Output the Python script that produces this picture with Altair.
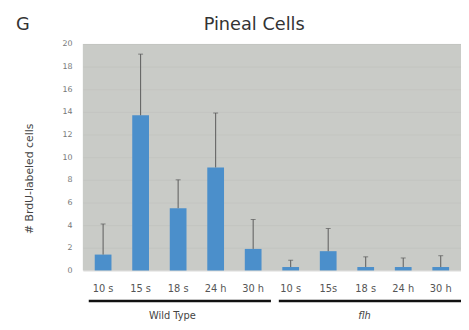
import altair as alt
import pandas as pd

groups = ["Wild Type"] * 5 + ["flh"] * 5
times = ["10 s", "15 s", "18 s", "24 h", "30 h", "10 s", "15s", "18 s", "24 h", "30 h"]
means = [1.4, 13.7, 5.5, 9.1, 1.9, 0.3, 1.7, 0.3, 0.3, 0.3]
uppers = [4.1, 19.1, 8.0, 13.9, 4.5, 0.9, 3.7, 1.2, 1.1, 1.3]
y_ticks = list(range(0, 21, 2))

keys = [f"{i}|{t}" for i, t in enumerate(times)]
df = pd.DataFrame({"key": keys, "group": groups, "mean": means, "upper": uppers})

W, H = 384, 230
FONT = "DejaVu Sans"

xscale = alt.Scale(paddingInner=0, paddingOuter=0.04)
xaxis = alt.Axis(labelExpr="split(datum.value, '|')[1]", labelAngle=0,
                 ticks=False, domain=False, labelPadding=13,
                 labelFontSize=10, labelColor="#555", labelFont=FONT)
yscale = alt.Scale(domain=[0, 20], nice=False)
yaxis = alt.Axis(values=y_ticks, ticks=False, domain=False, labelPadding=11,
                 labelOverlap=False, labelFontSize=8, labelColor="#777",
                 labelFont=FONT, grid=True, gridColor="#c0c2be", gridWidth=0.7)

def X():
    return alt.X("key:N", sort=keys, title=None, scale=xscale, axis=xaxis)

def Y(field):
    return alt.Y(field, scale=yscale, title=None, axis=yaxis)

base = alt.Chart(df)

bars = base.mark_bar(color="#4b8fcb", size=17).encode(x=X(), y=Y("mean:Q"))
err = base.mark_rule(color="#5a5a5a", strokeWidth=1).encode(
    x=X(), y=Y("mean:Q"), y2="upper:Q")
caps = base.mark_tick(color="#5a5a5a", size=5, thickness=1, orient="horizontal").encode(
    x=X(), y=Y("upper:Q"))

def txt(s, x, y, size, **kw):
    return alt.Chart(pd.DataFrame({"t": [s]})).mark_text(
        fontSize=size, font=kw.pop("font", FONT), color=kw.pop("color", "#333"), **kw
    ).encode(text="t:N", x=alt.value(x), y=alt.value(y))

def hline(x1, x2, y):
    return alt.Chart(pd.DataFrame({"a": [0]})).mark_rule(
        color="#111", strokeWidth=2.5, clip=False
    ).encode(x=alt.value(x1), x2=alt.value(x2), y=alt.value(y))

chart = alt.layer(
    bars, err, caps,
    txt("Pineal Cells", 174, -19, 18),
    txt("G", -61, -19, 18),
    txt("# BrdU-labeled cells", -54, 137, 11, angle=270, color="#444"),
    hline(6, 191, 261), hline(199, 384, 261),
    txt("Wild Type", 91, 276, 10, color="#444"),
    txt("flh", 286, 276, 10, color="#444", fontStyle="italic"),
).properties(
    width=W, height=H,
    autosize=alt.AutoSizeParams(type="none"),
    padding={"left": 76, "top": 34, "right": 0, "bottom": 58},
).configure_view(fill="#c9cbc7", stroke=None)

chart.save("out.html", embed_options={"renderer": "svg", "actions": False})
